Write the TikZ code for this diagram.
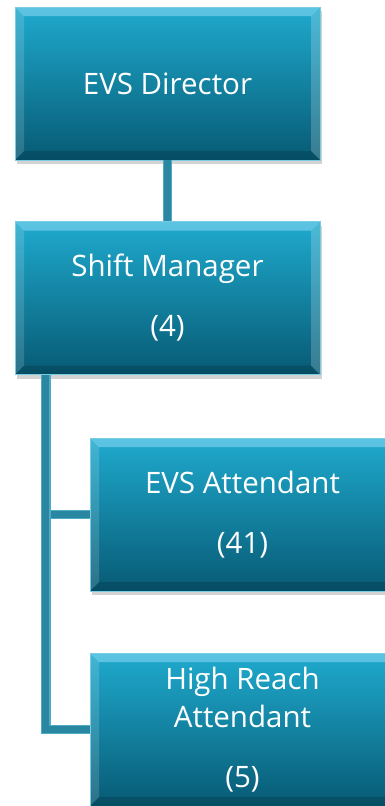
\documentclass[tikz,border=0pt]{standalone}
\usepackage{fontspec}
\setmainfont{Open Sans}
\usetikzlibrary{shadows}
\definecolor{boxtop}{HTML}{1FAACE}
\definecolor{boxbot}{HTML}{075A74}
\definecolor{linkedge}{HTML}{4FAAC4}
\definecolor{linkfill}{HTML}{2A87A2}

\begin{document}
\begin{tikzpicture}[x=1pt, y=-1pt,
    box/.style={minimum width=305pt, minimum height=153pt, inner sep=0pt,
        top color=boxtop, bottom color=boxbot, draw=boxtop!60!white, line width=0.6pt,
        text=white, font=\fontsize{29.5}{38}\selectfont, align=center,
        drop shadow={shadow xshift=2pt, shadow yshift=-4pt, opacity=0.35},
        path picture={
            \fill[cyan!40!white, opacity=0.5] (path picture bounding box.north west) -- (path picture bounding box.north east)
                -- ([xshift=-9pt, yshift=-9pt]path picture bounding box.north east) -- ([xshift=9pt, yshift=-9pt]path picture bounding box.north west) -- cycle;
            \fill[white, opacity=0.15] (path picture bounding box.north west) -- (path picture bounding box.south west)
                -- ([xshift=9pt, yshift=9pt]path picture bounding box.south west) -- ([xshift=9pt, yshift=-9pt]path picture bounding box.north west) -- cycle;
            \fill[white, opacity=0.2] (path picture bounding box.north east) -- (path picture bounding box.south east)
                -- ([xshift=-9pt, yshift=9pt]path picture bounding box.south east) -- ([xshift=-9pt, yshift=-9pt]path picture bounding box.north east) -- cycle;
            \fill[black, opacity=0.15] (path picture bounding box.south west) -- (path picture bounding box.south east)
                -- ([xshift=-9pt, yshift=9pt]path picture bounding box.south east) -- ([xshift=9pt, yshift=9pt]path picture bounding box.south west) -- cycle;
        }},
    link/.style={draw=linkedge, line width=1.2pt, double=linkfill, double distance=7.5pt}]
        \useasboundingbox[clip] (0, 0) rectangle (385, 806);

        \node[box] (a) at (167.5, 83.5) {EVS Director};
        \node[box] (b) at (167.5, 298) {Shift Manager\\[22pt](4)};
        \node[box] (c) at (242.5, 514.5) {EVS Attendant\\[22pt](41)};
        \node[box] (d) at (242.5, 729.5) {High Reach\\Attendant\\[22pt](5)};

        \coordinate (t) at ([xshift=31pt]b.south west);

        \draw[link] (a) -- (b);
        \draw[link] (t) |- (c.west);
        \draw[link] (t) |- (d.west);
    \end{tikzpicture}
\end{document}
